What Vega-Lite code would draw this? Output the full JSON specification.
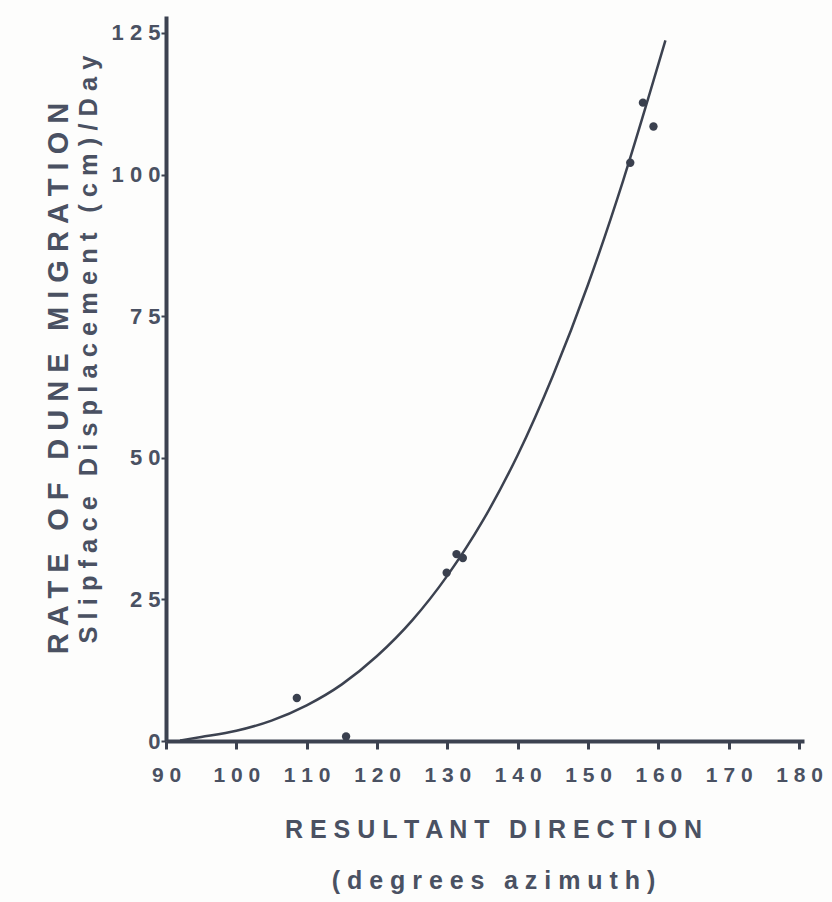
{
  "$schema": "https://vega.github.io/schema/vega-lite/v6.json",
  "width": 638,
  "height": 725,
  "autosize": {"type": "none"},
  "padding": {"left": 166, "top": 16, "right": 28, "bottom": 161},
  "background": "#fdfdfc",
  "config": {"view": {"stroke": null}, "font": "Liberation Sans"},
  "title": {
    "text": "R A T E \u2002O F \u2002D U N E \u2002M I G R A T I O N",
    "orient": "left",
    "anchor": "middle",
    "offset": 2,
    "fontSize": 29,
    "fontWeight": "bold",
    "color": "#4a5162",
    "font": "Liberation Sans"
  },
  "datasets": {
    "curve": [
      {"direction": 92, "displacement": 0.1},
      {"direction": 95, "displacement": 0.7},
      {"direction": 100, "displacement": 1.8},
      {"direction": 105, "displacement": 3.6},
      {"direction": 110, "displacement": 6.3},
      {"direction": 115, "displacement": 10.0},
      {"direction": 120, "displacement": 15.0},
      {"direction": 125, "displacement": 21.3},
      {"direction": 130, "displacement": 29.2},
      {"direction": 135, "displacement": 38.8},
      {"direction": 140, "displacement": 50.5},
      {"direction": 145, "displacement": 64.5},
      {"direction": 150, "displacement": 80.6},
      {"direction": 155, "displacement": 99.0},
      {"direction": 160, "displacement": 119.5},
      {"direction": 161, "displacement": 123.7}
    ],
    "points": [
      {"direction": 108.6, "displacement": 7.6},
      {"direction": 115.6, "displacement": 0.8},
      {"direction": 129.9, "displacement": 29.7},
      {"direction": 131.3, "displacement": 33.0},
      {"direction": 132.2, "displacement": 32.3},
      {"direction": 156.0, "displacement": 102.1},
      {"direction": 157.8, "displacement": 112.7},
      {"direction": 159.3, "displacement": 108.5}
    ]
  },
  "layer": [
    {
      "data": {"name": "curve"},
      "mark": {"type": "line", "interpolate": "monotone", "color": "#3c4250", "strokeWidth": 2.5},
      "encoding": {
        "x": {
          "field": "direction",
          "type": "quantitative",
          "scale": {"domain": [90, 180.7], "nice": false, "zero": false},
          "axis": {
            "values": [90, 100, 110, 120, 130, 140, 150, 160, 170, 180],
            "labelExpr": "join(split(datum.label, ''), ' ')",
            "grid": false,
            "domainColor": "#3c4250",
            "domainWidth": 4,
            "tickColor": "#3c4250",
            "tickWidth": 3,
            "tickSize": 8,
            "labelPadding": 15,
            "labelFont": "Liberation Sans",
            "labelFontSize": 21,
            "labelFontWeight": "bold",
            "labelColor": "#4a5162",
            "labelFlush": false,
            "labelOverlap": false,
            "title": ["R E S U L T A N T \u2002D I R E C T I O N", "( d e g r e e s \u2002a z i m u t h )"],
            "titleFont": "Liberation Sans",
            "titleFontSize": 25,
            "titleFontWeight": "bold",
            "titleColor": "#4a5162",
            "titleLineHeight": 51,
            "titleBaseline": "alphabetic",
            "titleAlign": "center",
            "titleX": 327,
            "titleY": 96
          }
        },
        "y": {
          "field": "displacement",
          "type": "quantitative",
          "scale": {"domain": [0, 128], "nice": false},
          "axis": {
            "values": [0, 25, 50, 75, 100, 125],
            "labelExpr": "join(split(datum.label, ''), ' ')",
            "grid": false,
            "domainColor": "#3c4250",
            "domainWidth": 4,
            "tickColor": "#3c4250",
            "tickWidth": 2,
            "tickSize": 5,
            "labelPadding": 1,
            "labelFont": "Liberation Sans",
            "labelFontSize": 22,
            "labelFontWeight": "bold",
            "labelColor": "#4a5162",
            "labelFlush": false,
            "labelOverlap": false,
            "title": "S l i p f a c e \u2002D i s p l a c e m e n t \u2002( c m ) / D a y",
            "titleFont": "Liberation Sans",
            "titleFontSize": 25.5,
            "titleFontWeight": "bold",
            "titleColor": "#4a5162",
            "titleAngle": -90,
            "titleAlign": "center",
            "titleBaseline": "alphabetic",
            "titleX": -70,
            "titleY": 333
          }
        }
      }
    },
    {
      "data": {"name": "points"},
      "mark": {"type": "circle", "size": 70, "color": "#3a404e", "opacity": 1},
      "encoding": {
        "x": {"field": "direction", "type": "quantitative"},
        "y": {"field": "displacement", "type": "quantitative"}
      }
    }
  ]
}
